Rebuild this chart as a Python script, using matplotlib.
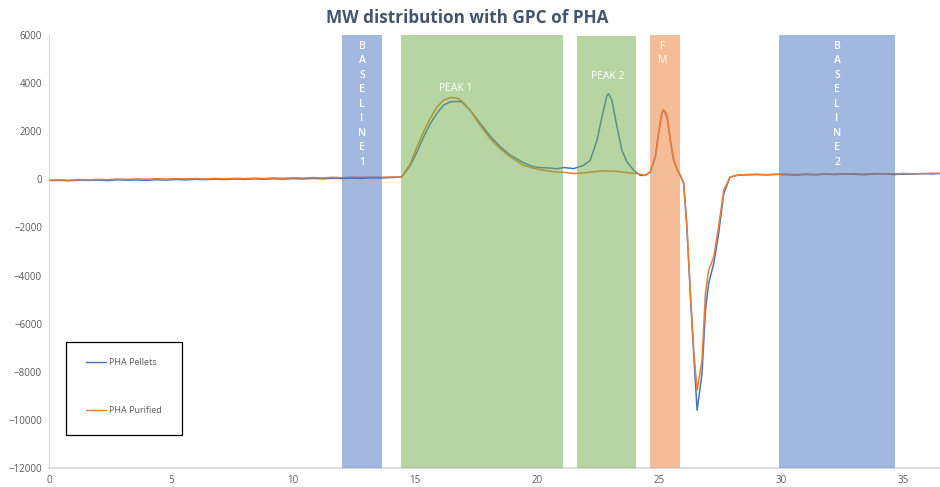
import matplotlib
matplotlib.use("Agg")
import matplotlib.pyplot as plt
from matplotlib.patches import Rectangle

plt.rcParams['font.family'] = ['Open Sans', 'DejaVu Sans']

# ---------------- data ----------------
time = [0.0, 0.4, 0.8, 1.2, 1.6, 2.0, 2.4, 2.8, 3.2, 3.6, 4.0, 4.4, 4.8, 5.2, 5.6, 6.0,
        6.4, 6.8, 7.2, 7.6, 8.0, 8.4, 8.8, 9.2, 9.6, 10.0, 10.4, 10.8, 11.2, 11.6, 12.0,
        12.4, 12.8, 13.2, 13.6, 14.0, 14.45,
        14.8, 15.07, 15.34, 15.61, 15.89, 16.16, 16.43, 16.71, 16.91, 17.25, 17.66, 18.07,
        18.48, 18.89, 19.44, 19.85, 20.12, 20.5, 20.81, 21.1, 21.49, 21.9, 22.17, 22.45,
        22.65, 22.86, 22.93, 23.06, 23.27, 23.47, 23.68, 23.95, 24.22, 24.43, 24.63, 24.84,
        24.97, 25.11, 25.16, 25.2, 25.32, 25.45, 25.59, 25.73, 25.86, 26.0, 26.13, 26.27, 26.41,
        26.55, 26.75, 26.89, 27.02, 27.23, 27.43, 27.64, 27.9, 28.18,
        28.6, 29.0, 29.4, 29.8, 30.2, 30.6, 31.0, 31.4, 31.8, 32.2, 32.6, 33.0, 33.4, 33.8,
        34.2, 34.6, 35.0, 35.4, 35.8, 36.2, 36.6]

pha_pellets = [-55, -40, -60, -35, -45, -30, -50, -20, -35, -25, -40, -15, -30, -5, -20, 0,
               -10, 10, -5, 15, 0, 20, 5, 25, 10, 30, 15, 40, 20, 45, 35,
               50, 40, 60, 55, 75, 95,
               580, 1130, 1750, 2300, 2740, 3080, 3220, 3240, 3220, 2870, 2330, 1800,
               1360, 1010, 690, 520, 485, 470, 440, 490, 445, 580, 790, 1620,
               2590, 3490, 3560, 3280, 2170, 1200, 720, 375, 165, 165, 300, 930,
               1900, 2730, 2850, 2840, 2590, 1620, 790, 400, 165, -180, -1980, -4750, -7250,
               -9600, -8080, -5450, -4340, -3500, -2260, -600, 95, 165,
               190, 200, 185, 210, 195, 180, 205, 190, 215, 200, 230, 210, 195, 225,
               235, 200, 215, 220, 235, 225, 250]

pha_purified = [-30, -20, -35, -10, -25, 0, -15, 15, 0, 20, 5, 25, 10, 30, 20, 35,
                15, 40, 25, 45, 30, 50, 35, 60, 45, 65, 55, 75, 60, 85, 70,
                90, 80, 95, 85, 100, 95,
                650, 1340, 1970, 2520, 3010, 3290, 3400, 3380, 3260, 2870, 2250, 1690,
                1275, 930, 580, 460, 400, 340, 300, 290, 240, 270, 300, 330,
                345, 350, 345, 340, 330, 300, 280, 250, 210, 170, 310, 950,
                1950, 2790, 2890, 2880, 2650, 1680, 830, 420, 180, -150, -1900, -4600, -7100,
                -8770, -7530, -4750, -3780, -3230, -1980, -460, 95, 170,
                200, 210, 195, 205, 215, 200, 210, 205, 220, 215, 225, 230, 215, 240,
                225, 230, 245, 230, 240, 255, 245]

band_labels = ["B\nA\nS\nE\nL\nI\nN\nE\n1", "PEAK 1", "PEAK 2", "F\nM", "B\nA\nS\nE\nL\nI\nN\nE\n2"]
band_start = [12.0, 14.43, 21.64, 24.63, 29.9]
band_end = [13.65, 21.07, 24.06, 25.86, 34.67]
band_top = [6000, 6000, 5950, 6000, 6000]
band_colors = ['#4472C4', '#70AD47', '#70AD47', '#ED7D31', '#4472C4']

x_ticks = [0, 5, 10, 15, 20, 25, 30, 35]
y_ticks = [6000, 4000, 2000, 0, -2000, -4000, -6000, -8000, -10000, -12000]

# ---------------- figure ----------------
fig = plt.figure(figsize=(9.4, 4.87), dpi=100)
ax = fig.add_axes([49/940, 1-468/487, 1-49/940, (468-35)/487])

ax.plot(time, pha_pellets, color='#4472C4', lw=1.1, zorder=2, label='PHA Pellets')
ax.plot(time, pha_purified, color='#ED7D31', lw=1.1, zorder=3, label='PHA Purified')

ymin = -12000
for s, e, t, c in zip(band_start, band_end, band_top, band_colors):
    ax.bar(s, t - ymin, width=e - s, bottom=ymin, align='edge', color=c,
           alpha=0.5, linewidth=0, zorder=4)

# band labels
txt_kw = dict(color='white', fontsize=7.5, fontweight='semibold', ha='center', zorder=5)
ax.text((band_start[0] + band_end[0]) / 2, 5750, band_labels[0], va='top',
        linespacing=1.43, **txt_kw)
ax.text(16.68, 3780, band_labels[1], va='center', color='white', fontsize=7.5,
        ha='center', zorder=5)
ax.text(22.9, 4280, band_labels[2], va='center', color='white', fontsize=7.5,
        ha='center', zorder=5)
ax.text(25.12, 5750, band_labels[3], va='top', linespacing=1.43, color='white',
        fontsize=7.5, ha='center', zorder=5)
ax.text((band_start[4] + band_end[4]) / 2, 5750, band_labels[4], va='top',
        linespacing=1.43, **txt_kw)

ax.set_xlim(0, 36.5)
ax.set_ylim(-12000, 6000)
ax.set_xticks(x_ticks)
ax.set_yticks(y_ticks)
ax.tick_params(length=0, labelsize=7, labelcolor='#595959', pad=5)
for sp in ['top', 'right']:
    ax.spines[sp].set_visible(False)
ax.spines['left'].set_color('#D9D9D9')
ax.spines['bottom'].set_color('#D9D9D9')
ax.spines['bottom'].set_linewidth(1.2)

fig.text(467/940, 1-18/487, 'MW distribution with GPC of PHA', ha='center', va='center',
         fontsize=12.3, fontweight='bold', color='#44546A')

# legend box
fig.patches.append(Rectangle((66/940, 1-435/487), (182-66)/940, (435-342)/487,
                             transform=fig.transFigure, facecolor='white',
                             edgecolor='black', linewidth=0.9, zorder=10))
leg = fig.legend(loc='upper left', bbox_to_anchor=(78/940, 1-350/487), frameon=False,
                 fontsize=6.5, labelspacing=4.3, handlelength=2.2, handletextpad=0.3,
                 labelcolor='#595959')
leg.set_zorder(11)
for l in leg.get_lines():
    l.set_linewidth(1.0)

fig.savefig('out.png', dpi=100)
